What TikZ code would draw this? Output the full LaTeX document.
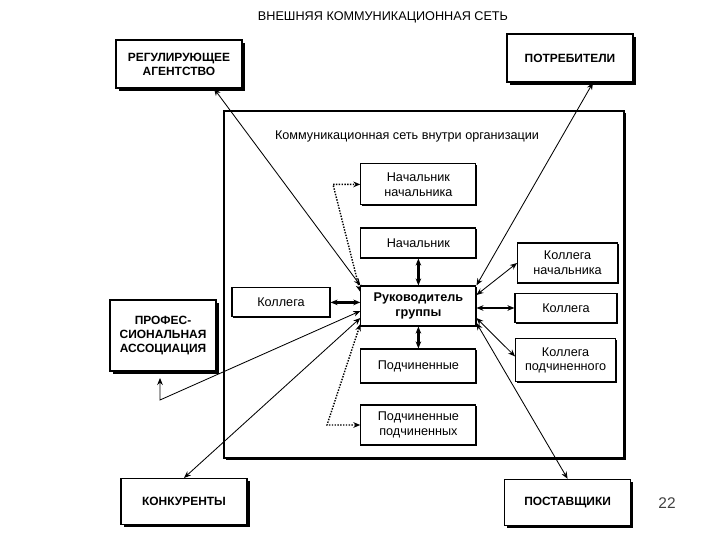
\documentclass[tikz,border=0pt]{standalone}
\usepackage{fontspec}
\setmainfont{Liberation Sans}
\usetikzlibrary{arrows.meta,shadows}

\begin{document}
\begin{tikzpicture}[>={Stealth[length=5pt,width=4pt]},
  every node/.style={font=\fontsize{9}{10.5}\selectfont, align=center},
  outer/.style={draw, line width=0.9pt, fill=white, minimum width=3.15cm, minimum height=1.2cm,
    font=\fontsize{8.5}{10}\selectfont\bfseries,
    general shadow={fill=black, shadow xshift=2pt, shadow yshift=-2pt}},
  inner/.style={draw, line width=0.8pt, fill=white, minimum width=2.875cm,
    general shadow={fill=black, shadow xshift=0.8pt, shadow yshift=-0.8pt}},
  side/.style={inner, minimum width=2.5cm},
  link/.style={<->, line width=0.6pt},
  main/.style={<->, line width=1.6pt},
  dots/.style={<->, line width=1pt, densely dotted}]
\useasboundingbox (0,0) rectangle (18,13.5);

\node (title) at (9.575, 13.075) {ВНЕШНЯЯ КОММУНИКАЦИОННАЯ СЕТЬ};
\node[draw, line width=0.9pt, minimum width=10cm, minimum height=8.675cm,
  general shadow={fill=black, shadow xshift=1.2pt, shadow yshift=-1.2pt}, fill=white] (org) at (10.6, 6.3875) {};
\node (orglabel) at (10.175, 10.1) {Коммуникационная сеть внутри организации};

\node[outer] (reg) at (4.475, 11.9) {РЕГУЛИРУЮЩЕЕ\\АГЕНТСТВО};
\node[outer] (cons) at (14.25, 12.05) {ПОТРЕБИТЕЛИ};
\node[outer, minimum width=2.65cm, minimum height=1.775cm] (prof) at (4.075, 5.11) {ПРОФЕС-\\СИОНАЛЬНАЯ\\АССОЦИАЦИЯ};
\node[outer, minimum height=1.15cm] (konk) at (4.6, 0.96) {КОНКУРЕНТЫ};
\node[outer, minimum height=1.15cm] (post) at (14.19, 0.94) {ПОСТАВЩИКИ};

\node[inner, minimum height=1.025cm] (nn) at (10.46, 8.89) {Начальник\\начальника};
\node[inner, minimum height=0.75cm] (boss) at (10.46, 7.425) {Начальник};
\node[inner, minimum height=1cm, font=\fontsize{9}{10.5}\selectfont\bfseries] (head) at (10.46, 5.85) {Руководитель\\группы};
\node[inner, minimum height=0.85cm] (sub) at (10.46, 4.35) {Подчиненные};
\node[inner, minimum height=1cm] (subsub) at (10.46, 2.875) {Подчиненные\\подчиненных};
\node[side, minimum width=2.45cm, minimum height=0.725cm] (colL) at (7.025, 5.94) {Коллега};
\node[side, minimum height=1cm] (colBoss) at (14.19, 6.925) {Коллега\\начальника};
\node[side, minimum width=2.55cm, minimum height=0.725cm] (colR) at (14.15, 5.8) {Коллега};
\node[side, minimum height=1.075cm] (colSub) at (14.14, 4.49) {Коллега\\подчиненного};

\coordinate (pc) at (4.0, 3.5);
\coordinate (pe) at (4.0, 4.05);
\coordinate (dt) at (8.325, 8.89);
\coordinate (db) at (8.175, 2.875);

\draw[link] ([xshift=0.875cm]reg.south) -- (head.north west);
\draw[link] ([xshift=0.575cm]cons.south) -- (head.north east);
\draw[link] ([yshift=-0.3cm]head.west) -- (konk.north);
\draw[link] ([yshift=-0.425cm]head.east) -- (post.north);
\draw[link] ([yshift=-0.125cm]head.west) -- (pc) -- (pe);
\draw[link] ([yshift=0.275cm]head.east) -- (colBoss.west);
\draw[link] ([yshift=-0.3cm]head.east) -- ([yshift=0.1cm]colSub.west);

\draw[main] (colL.east) -- (colL.east -| head.west);
\draw[main] (head.east |- colR.west) -- (colR.west);
\draw[main] (boss) -- (head);
\draw[main] (head) -- (sub);

\draw[dots] ([yshift=0.35cm]head.west) -- (dt) -- (nn.west);
\draw[dots] ([yshift=-0.45cm]head.west) -- (db) -- (subsub.west);

\node[font=\fontsize{11}{13}\selectfont, text=black!75] (page) at (16.675, 0.925) {22};
\end{tikzpicture}
\end{document}
